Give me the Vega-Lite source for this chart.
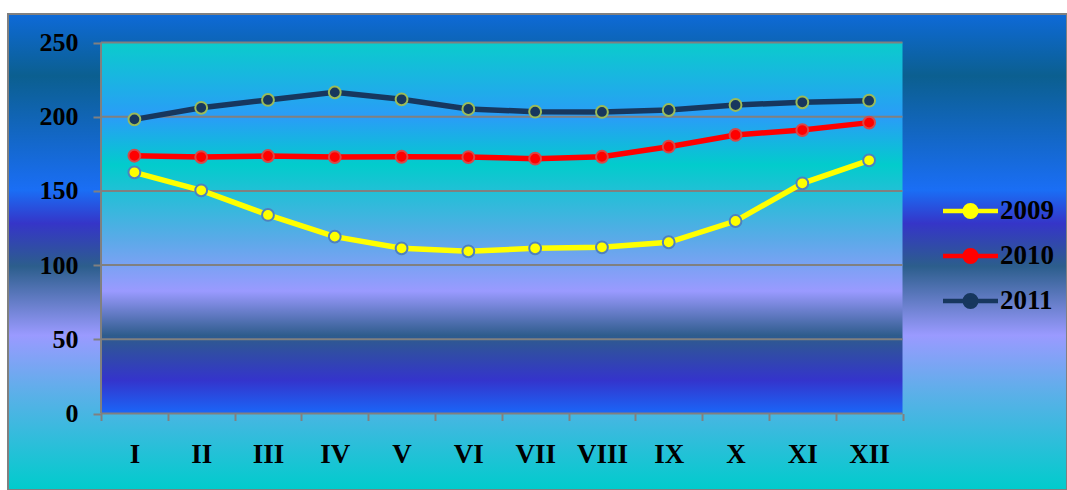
{
  "$schema": "https://vega.github.io/schema/vega-lite/v6.json",
  "width": 1059,
  "height": 476,
  "autosize": {"type": "none"},
  "padding": {"left": 8, "top": 14, "right": 0, "bottom": 0},
  "background": "#ffffff",
  "datasets": {
    "series": [
      {"m": "I", "year": "2009", "v": 162.5},
      {"m": "II", "year": "2009", "v": 150.4},
      {"m": "III", "year": "2009", "v": 133.8},
      {"m": "IV", "year": "2009", "v": 119.2},
      {"m": "V", "year": "2009", "v": 111.3},
      {"m": "VI", "year": "2009", "v": 109.3},
      {"m": "VII", "year": "2009", "v": 111.3},
      {"m": "VIII", "year": "2009", "v": 112},
      {"m": "IX", "year": "2009", "v": 115.4},
      {"m": "X", "year": "2009", "v": 129.7},
      {"m": "XI", "year": "2009", "v": 155.1},
      {"m": "XII", "year": "2009", "v": 170.6},
      {"m": "I", "year": "2010", "v": 173.7},
      {"m": "II", "year": "2010", "v": 172.8},
      {"m": "III", "year": "2010", "v": 173.5},
      {"m": "IV", "year": "2010", "v": 172.8},
      {"m": "V", "year": "2010", "v": 173},
      {"m": "VI", "year": "2010", "v": 172.8},
      {"m": "VII", "year": "2010", "v": 171.7},
      {"m": "VIII", "year": "2010", "v": 173},
      {"m": "IX", "year": "2010", "v": 179.8},
      {"m": "X", "year": "2010", "v": 187.7},
      {"m": "XI", "year": "2010", "v": 191},
      {"m": "XII", "year": "2010", "v": 196},
      {"m": "I", "year": "2011", "v": 198.2},
      {"m": "II", "year": "2011", "v": 206},
      {"m": "III", "year": "2011", "v": 211.3},
      {"m": "IV", "year": "2011", "v": 216.4},
      {"m": "V", "year": "2011", "v": 211.7},
      {"m": "VI", "year": "2011", "v": 205.2},
      {"m": "VII", "year": "2011", "v": 203.4},
      {"m": "VIII", "year": "2011", "v": 203.2},
      {"m": "IX", "year": "2011", "v": 204.5},
      {"m": "X", "year": "2011", "v": 207.9},
      {"m": "XI", "year": "2011", "v": 209.7},
      {"m": "XII", "year": "2011", "v": 210.8}
    ],
    "grid": [{"g": 0}, {"g": 50}, {"g": 100}, {"g": 150}, {"g": 200}, {"g": 250}],
    "one": [{"k": 1}]
  },
  "config": {
    "font": "Liberation Serif",
    "view": {
      "stroke": "#808080",
      "strokeWidth": 2,
      "fill": {
        "gradient": "linear", "x1": 0, "y1": 0, "x2": 0, "y2": 1,
        "stops": [
          {"offset": 0, "color": "#0e6ad8"},
          {"offset": 0.13, "color": "#0b5f90"},
          {"offset": 0.37, "color": "#1a6ef5"},
          {"offset": 0.44, "color": "#3535c8"},
          {"offset": 0.53, "color": "#2c5e8c"},
          {"offset": 0.675, "color": "#9a9aff"},
          {"offset": 0.8, "color": "#5ab0e8"},
          {"offset": 1, "color": "#00cccc"}
        ]
      }
    }
  },
  "layer": [
    {
      "data": {"name": "one"},
      "mark": {
        "type": "rect",
        "fill": {
          "gradient": "linear", "x1": 0, "y1": 0, "x2": 0, "y2": 1,
          "stops": [
            {"offset": 0, "color": "#0acccc"},
            {"offset": 0.2, "color": "#2a9cf8"},
            {"offset": 0.33, "color": "#02cccc"},
            {"offset": 0.53, "color": "#5aaae8"},
            {"offset": 0.67, "color": "#9a9aff"},
            {"offset": 0.79, "color": "#2e5c8c"},
            {"offset": 0.91, "color": "#3434cc"},
            {"offset": 1, "color": "#1a66f8"}
          ]
        }
      },
      "encoding": {
        "x": {"datum": "I", "bandPosition": 0},
        "x2": {"datum": "XII", "bandPosition": 1},
        "y": {"datum": 0, "type": "quantitative"},
        "y2": {"datum": 250}
      }
    },
    {
      "data": {"name": "grid"},
      "mark": {"type": "rule", "color": "#808080", "strokeWidth": 2},
      "encoding": {
        "x": {"datum": "I", "bandPosition": 0},
        "x2": {"datum": "XII", "bandPosition": 1},
        "y": {"field": "g", "type": "quantitative"}
      }
    },
    {
      "data": {"name": "one"},
      "mark": {"type": "rule", "color": "#808080", "strokeWidth": 2},
      "encoding": {
        "x": {"datum": "I", "bandPosition": 0},
        "y": {"datum": 0, "type": "quantitative"},
        "y2": {"datum": 250}
      }
    },
    {
      "data": {"name": "series"},
      "mark": {"type": "line", "strokeWidth": 5.5},
      "encoding": {
        "x": {
          "field": "m", "type": "ordinal", "bandPosition": 0.5,
          "scale": {"type": "band", "domain": ["I","II","III","IV","V","VI","VII","VIII","IX","X","XI","XII"], "paddingInner": 0, "paddingOuter": 0, "range": [93, 894.5]},
          "axis": {"title": null, "orient": "bottom", "offset": -76.5, "domain": false, "grid": false, "tickBand": "extent", "tickColor": "#808080", "tickWidth": 2, "tickSize": 7, "labelFont": "Liberation Serif", "labelFontSize": 27, "labelFontWeight": "bold", "labelColor": "#000000", "labelPadding": 21, "labelAngle": 0, "labelAlign": "center", "labelBaseline": "top"}
        },
        "y": {
          "field": "v", "type": "quantitative",
          "scale": {"domain": [0, 250], "nice": false, "zero": false, "range": [399.5, 28.5]},
          "axis": {"title": null, "values": [0, 50, 100, 150, 200, 250], "offset": -93, "domain": false, "grid": false, "tickColor": "#808080", "tickWidth": 2, "tickSize": 8, "labelFont": "Liberation Serif", "labelFontSize": 26, "labelFontWeight": "bold", "labelColor": "#000000", "labelPadding": 15}
        },
        "color": {
          "field": "year", "type": "nominal",
          "scale": {"domain": ["2009", "2010", "2011"], "range": ["#ffff00", "#ff0000", "#17375e"]},
          "legend": {
            "title": null, "orient": "none", "legendX": 932.5, "legendY": 167,
            "symbolType": "M-1,0H1M0.21,0A0.21,0.21,0,1,1,-0.21,0A0.21,0.21,0,1,1,0.21,0Z",
            "symbolSize": 3025, "symbolStrokeWidth": 4.5, "symbolOpacity": 1,
            "labelFont": "Liberation Serif", "labelFontSize": 27, "labelFontWeight": "bold", "labelColor": "#000000",
            "labelOffset": -0.5, "rowPadding": -1.5, "padding": 0,
            "encode": {"symbols": {"update": {"fill": {"scale": "color", "field": "value"}, "stroke": {"scale": "color", "field": "value"}}}}
          }
        }
      }
    },
    {
      "data": {"name": "series"},
      "mark": {"type": "point", "filled": true, "size": 140, "strokeWidth": 2, "opacity": 1},
      "encoding": {
        "x": {"field": "m", "type": "ordinal", "bandPosition": 0.5},
        "y": {"field": "v", "type": "quantitative"},
        "color": {"field": "year", "type": "nominal"},
        "stroke": {"field": "year", "type": "nominal", "scale": {"domain": ["2009", "2010", "2011"], "range": ["#4f81bd", "#d84848", "#9bbb59"]}, "legend": null}
      }
    }
  ]
}
